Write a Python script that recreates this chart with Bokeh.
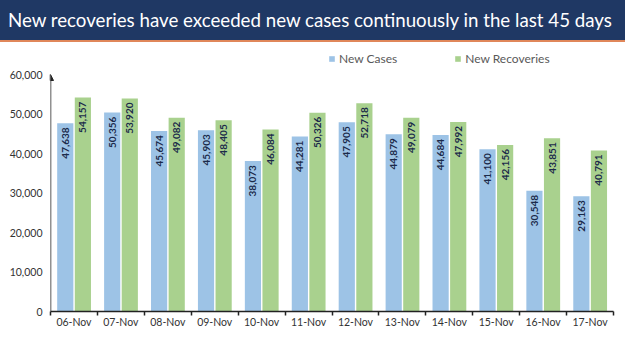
from bokeh.plotting import figure
from bokeh.models import (Range1d, FixedTicker, NumeralTickFormatter, Legend, LegendItem,
                          ColumnDataSource, Div, Arrow, NormalHead)
from bokeh.layouts import column
from bokeh.core.properties import value
from bokeh.embed import file_html
from bokeh.resources import INLINE
from bokeh.transform import dodge

title = "New recoveries have exceeded new cases continuously in the last 45 days"
dates = ["06-Nov", "07-Nov", "08-Nov", "09-Nov", "10-Nov", "11-Nov",
         "12-Nov", "13-Nov", "14-Nov", "15-Nov", "16-Nov", "17-Nov"]
new_cases = [47638, 50356, 45674, 45903, 38073, 44281, 47905, 44879, 44684, 41100, 30548, 29163]
new_recoveries = [54157, 53920, 49082, 48405, 46084, 50326, 52718, 49079, 47992, 42156, 43851, 40791]
y_ticks = [0, 10000, 20000, 30000, 40000, 50000, 60000]

BLUE = "#9DC3E6"
GREEN = "#A9D18E"
NAVY = "#1F3864"
LABEL = "#1B2A4A"
AXIS = "#222222"
FONT = "Lato"

# frame extends a little above the 60,000 line to leave room for the legend
FRAME_TOP = 60000 * 265 / 237

xs = list(range(len(dates)))
src = ColumnDataSource(dict(
    x=xs, cases=new_cases, rec=new_recoveries,
    cases_lbl=[f"{v:,}" for v in new_cases],
    rec_lbl=[f"{v:,}" for v in new_recoveries],
))

banner = Div(
    text=(f'<div style="width:625px;height:42px;box-sizing:border-box;background:{NAVY};'
          f'border-bottom:2px solid #E0875A;color:white;font-family:{FONT};font-size:18.7px;'
          f'line-height:41px;padding-left:8px;white-space:nowrap;overflow:hidden;">{title}</div>'),
    width=625, height=42, margin=0,
)

p = figure(width=625, height=309, output_backend="svg", toolbar_location=None,
           x_range=Range1d(-0.5, len(dates) - 0.5), y_range=Range1d(0, FRAME_TOP),
           min_border_left=50, min_border_right=12, min_border_top=4, min_border_bottom=40,
           margin=0)
p.outline_line_color = None
p.background_fill_color = "white"
p.border_fill_color = "white"
p.xgrid.visible = False
p.ygrid.visible = False

r1 = p.vbar(x=dodge("x", -0.185), top="cases", width=0.345, source=src,
            fill_color=BLUE, line_color=None)
r2 = p.vbar(x=dodge("x", 0.19), top="rec", width=0.345, source=src,
            fill_color=GREEN, line_color=None)

for off, col, lbl in [(-0.185, "cases", "cases_lbl"), (0.19, "rec", "rec_lbl")]:
    p.text(x=dodge("x", off), y=col, text=lbl, source=src, angle=1.5708,
           text_align="right", text_baseline="middle", x_offset=0, y_offset=4,
           text_font=value(FONT), text_font_style="bold", text_font_size="10px",
           text_color=LABEL)

# axes
ya = p.yaxis[0]
ya.ticker = FixedTicker(ticks=y_ticks)
ya.formatter = NumeralTickFormatter(format="0,0")
ya.major_tick_line_color = None
ya.major_tick_out = 0
ya.major_tick_in = 0
ya.minor_tick_line_color = None
ya.minor_tick_out = 0
ya.axis_line_color = None
ya.major_label_standoff = 8
ya.major_label_text_font = FONT
ya.major_label_text_font_size = "10.5px"
ya.major_label_text_color = "#333333"

xa = p.xaxis[0]
xa.ticker = FixedTicker(ticks=xs, minor_ticks=[i - 0.5 for i in range(len(dates) + 1)])
xa.major_label_overrides = {i: d for i, d in enumerate(dates)}
xa.major_tick_line_color = None
xa.major_tick_out = 0
xa.minor_tick_out = 4
xa.minor_tick_in = 0
xa.minor_tick_line_color = AXIS
xa.minor_tick_line_width = 1.5
xa.axis_line_color = AXIS
xa.axis_line_width = 1.5
xa.major_label_standoff = 0
xa.major_label_text_font = FONT
xa.major_label_text_font_size = "10.5px"
xa.major_label_text_color = "#333333"

# y axis line (0 .. 60,000) with arrow head
p.add_layout(Arrow(end=NormalHead(size=6, fill_color=AXIS, line_color=AXIS),
                   x_start=-0.5, y_start=y_ticks[0], x_end=-0.5, y_end=y_ticks[-1],
                   line_color=AXIS, line_width=1.5))

legend = Legend(items=[LegendItem(label="New Cases", renderers=[r1]),
                       LegendItem(label="New Recoveries", renderers=[r2])],
                orientation="horizontal", location=(278, 245),
                glyph_width=7, glyph_height=7, label_standoff=4, spacing=57,
                label_text_font=FONT, label_text_font_size="12px",
                label_text_color="#595959", padding=0, margin=0,
                border_line_color=None, background_fill_alpha=0)
p.add_layout(legend, "center")

layout = column(banner, p, spacing=0, margin=0)
open("out.html", "w").write(file_html(layout, INLINE))
